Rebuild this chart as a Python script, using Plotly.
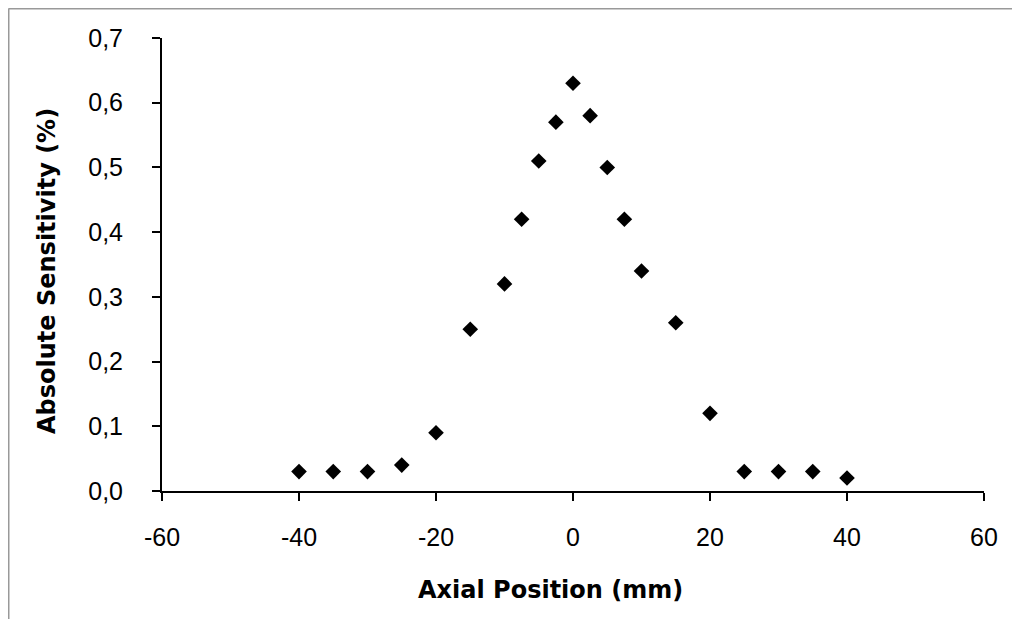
import plotly.graph_objects as go

axial_position_mm = [-40, -35, -30, -25, -20, -15, -10, -7.5, -5, -2.5, 0,
                     2.5, 5, 7.5, 10, 15, 20, 25, 30, 35, 40]
absolute_sensitivity = [0.03, 0.03, 0.03, 0.04, 0.09, 0.25, 0.32, 0.42, 0.51, 0.57, 0.63,
                        0.58, 0.50, 0.42, 0.34, 0.26, 0.12, 0.03, 0.03, 0.03, 0.02]

x_tick_vals = [-60, -40, -20, 0, 20, 40, 60]
x_tick_text = ["-60", "-40", "-20", "0", "20", "40", "60"]
y_tick_vals = [0.0, 0.1, 0.2, 0.3, 0.4, 0.5, 0.6, 0.7]
y_tick_text = ["0,0", "0,1", "0,2", "0,3", "0,4", "0,5", "0,6", "0,7"]
x_title = "Axial Position (mm)"
y_title = "Absolute Sensitivity (%)"

W, H = 1020, 619
ML, MR, MT, MB = 154, 44, 30, 136
PW, PH = W - ML - MR, H - MT - MB

tick_font = dict(family="Liberation Sans", size=25, color="black")
title_font = dict(family="DejaVu Sans", size=24, color="black")

fig = go.Figure()
fig.add_trace(go.Scatter(
    x=axial_position_mm, y=absolute_sensitivity, mode="markers",
    marker=dict(symbol="diamond", size=12, color="black"),
    showlegend=False, cliponaxis=False,
))

fig.update_layout(
    width=W, height=H,
    margin=dict(l=ML, r=MR, t=MT, b=MB, pad=0),
    paper_bgcolor="white", plot_bgcolor="white",
    separators=",.",
    font=dict(family="Liberation Sans", size=24, color="black"),
    xaxis=dict(
        range=[-60, 60], tickvals=x_tick_vals, ticktext=x_tick_text,
        showgrid=False, zeroline=False, showline=True, linecolor="black", linewidth=2,
        ticks="outside", ticklen=8, tickwidth=2, tickcolor="black",
        tickfont=tick_font, ticklabelstandoff=15,
    ),
    yaxis=dict(
        range=[0, 0.7], tickvals=y_tick_vals, ticktext=y_tick_text,
        showgrid=False, zeroline=False, showline=True, linecolor="black", linewidth=2,
        ticks="outside", ticklen=8, tickwidth=2, tickcolor="black",
        tickfont=tick_font, ticklabelstandoff=24,
    ),
)

# axis titles (positioned as in the reference, slightly off-centre)
fig.add_annotation(text="<b>" + x_title + "</b>", xref="paper", yref="paper",
                   x=(542 - ML) / PW, y=(H - MB - 582) / PH, xanchor="center", yanchor="middle",
                   showarrow=False, font=title_font)
fig.add_annotation(text="<b>" + y_title + "</b>", xref="paper", yref="paper",
                   x=(39 - ML) / PW, y=(H - MB - 263) / PH, xanchor="center", yanchor="middle",
                   textangle=-90, showarrow=False, font=title_font)

# outer gray frame (top and left edges visible in reference)
x_left = (0.5 - ML) / PW
y_top = 1 + (MT - 0.5) / PH
fig.add_shape(type="line", xref="paper", yref="paper", x0=x_left, x1=(W - ML) / PW + 0.02,
              y0=y_top, y1=y_top, line=dict(color="#999999", width=2))
fig.add_shape(type="line", xref="paper", yref="paper", x0=x_left, x1=x_left,
              y0=y_top, y1=-(MB + 5) / PH, line=dict(color="#999999", width=2))

fig.write_html("out.html")
